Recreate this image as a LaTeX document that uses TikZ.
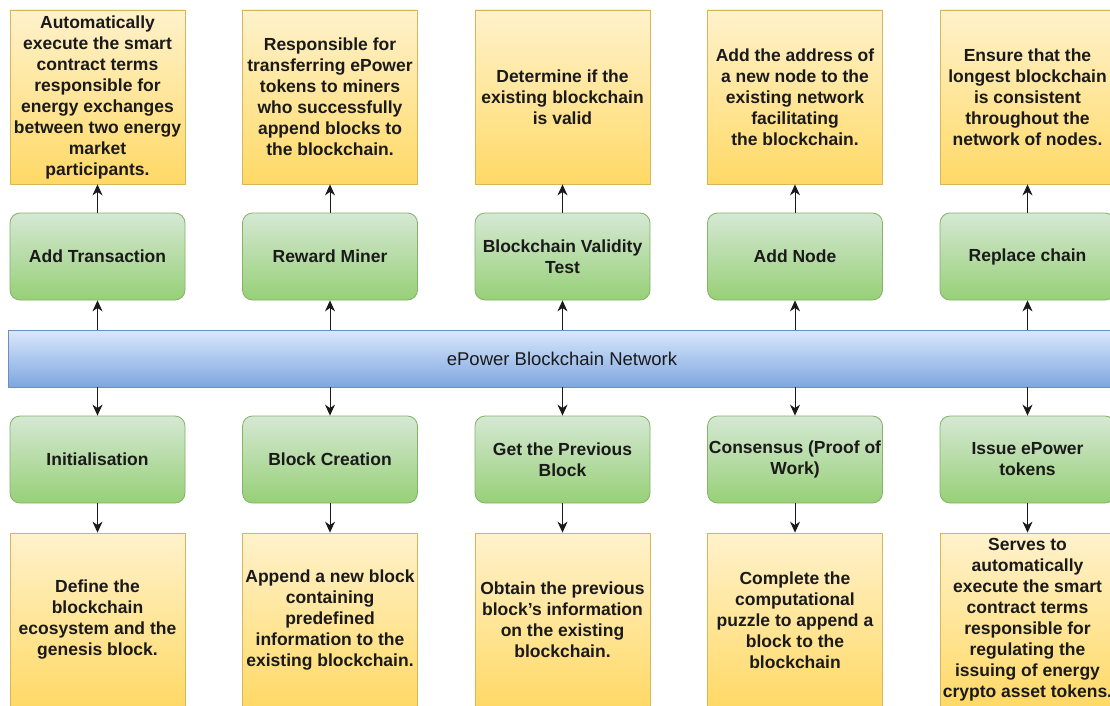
\documentclass[tikz,border=0pt]{standalone}
\usepackage{fontspec}
\setmainfont{Liberation Sans}
\usetikzlibrary{arrows.meta}

\definecolor{noteTop}{HTML}{FFF2CC}
\definecolor{noteBot}{HTML}{FFD966}
\definecolor{noteLine}{HTML}{D6B656}
\definecolor{taskTop}{HTML}{D5E8D4}
\definecolor{taskBot}{HTML}{97D077}
\definecolor{taskLine}{HTML}{82B366}
\definecolor{netTop}{HTML}{DAE8FC}
\definecolor{netBot}{HTML}{7EA6E0}
\definecolor{netLine}{HTML}{6C8EBF}
\definecolor{ink}{HTML}{1A1A1A}

\begin{document}
\begin{tikzpicture}[x=1pt, y=-1pt,
    note/.style={draw=noteLine, line width=0.8pt, top color=noteTop, bottom color=noteBot,
        minimum width=175pt, minimum height=174pt, inner sep=0pt, align=center,
        text=ink, font=\bfseries\fontsize{17.5}{21}\selectfont},
    task/.style={draw=taskLine, line width=0.8pt, rounded corners=10pt, top color=taskTop, bottom color=taskBot,
        minimum width=175pt, minimum height=87pt, inner sep=0pt, align=center,
        text=ink, font=\bfseries\fontsize{17.5}{21}\selectfont},
    link/.style={draw=ink, line width=1pt, -{Stealth[length=11pt, width=10pt, inset=3.5pt]}}]
    \useasboundingbox[fill=white] (0, 0) rectangle (1110, 706);

    % network bar
    \node[draw=netLine, line width=0.8pt, top color=netTop, bottom color=netBot,
        minimum width=1108pt, minimum height=57pt, inner sep=0pt, text=ink,
        font=\fontsize{18.5}{21}\selectfont] (net) at (562, 358.5) {ePower Blockchain Network};

    % upper row
    \node[task] (addtx) at (97.5, 256.5) {Add Transaction};
    \node[task] (reward) at (330, 256.5) {Reward Miner};
    \node[task] (valid) at (562.5, 256.5) {Blockchain Validity\\Test};
    \node[task] (addnode) at (795, 256.5) {Add Node};
    \node[task] (replace) at (1027.5, 256.5) {Replace chain};

    \node[note] (addtxnote) at (97.5, 97) {Automatically\\execute the smart\\contract terms\\responsible for\\energy exchanges\\between two energy\\market\\participants.};
    \node[note] (rewardnote) at (330, 97) {Responsible for\\transferring ePower\\tokens to miners\\who successfully\\append blocks to\\the blockchain.};
    \node[note] (validnote) at (562.5, 97) {Determine if the\\existing blockchain\\is valid};
    \node[note] (addnodenote) at (795, 97) {Add the address of\\a new node to the\\existing network\\facilitating\\the blockchain.};
    \node[note] (replacenote) at (1027.5, 97) {Ensure that the\\longest blockchain\\is consistent\\throughout the\\network of nodes.};

    % lower row
    \node[task] (init) at (97.5, 459.5) {Initialisation};
    \node[task] (create) at (330, 459.5) {Block Creation};
    \node[task] (prev) at (562.5, 459.5) {Get the Previous\\Block};
    \node[task] (pow) at (795, 459.5) {Consensus (Proof of\\Work)};
    \node[task] (issue) at (1027.5, 459.5) {Issue ePower\\tokens};

    \node[note] (initnote) at (97.5, 620) {Define the\\blockchain\\ecosystem and the\\genesis block.};
    \node[note] (createnote) at (330, 620) {Append a new block\\containing\\predefined\\information to the\\existing blockchain.};
    \node[note] (prevnote) at (562.5, 620) {Obtain the previous\\block's information\\on the existing\\blockchain.};
    \node[note] (pownote) at (795, 620) {Complete the\\computational\\puzzle to append a\\block to the\\blockchain};
    \node[note] (issuenote) at (1027.5, 620) {Serves to\\automatically\\execute the smart\\contract terms\\responsible for\\regulating the\\issuing of energy\\crypto asset tokens.};

    % connectors
    \foreach \up/\down in {addtx/init, reward/create, valid/prev, addnode/pow, replace/issue} {
        \draw[link] (net.north -| \up) -- (\up.south);
        \draw[link] (\up.north) -- (\up note.south);
        \draw[link] (net.south -| \down) -- (\down.north);
        \draw[link] (\down.south) -- (\down note.north);
    }
\end{tikzpicture}
\end{document}
